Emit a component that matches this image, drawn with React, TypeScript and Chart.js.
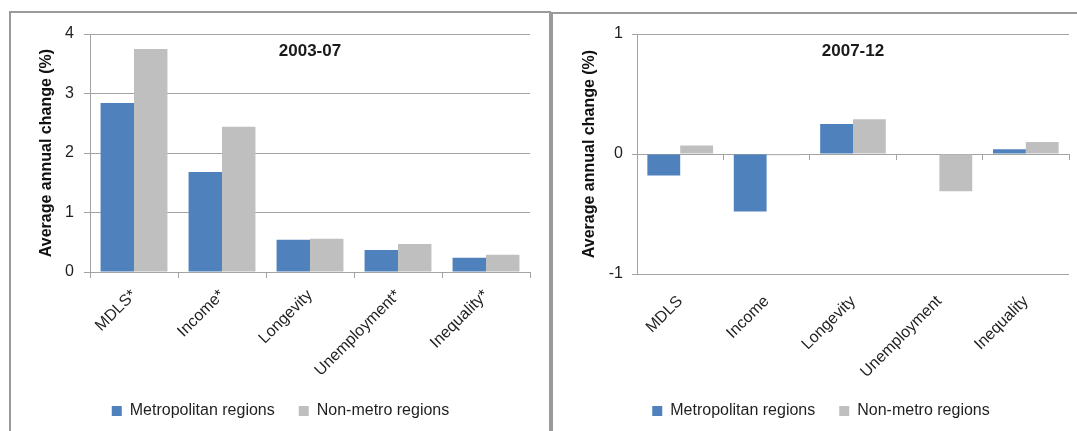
import React, { useEffect, useRef } from 'react';
import { Chart, registerables } from 'chart.js';

Chart.register(...registerables);

const FONT = '"Liberation Sans", Arial, sans-serif';

const seriesNames = ['Metropolitan regions', 'Non-metro regions'];
const seriesColors = ['#4F81BD', '#BFBFBF'];

// Period 2003-07
const categoriesA = ['MDLS*', 'Income*', 'Longevity', 'Unemployment*', 'Inequality*'];
const metroA = [2.84, 1.68, 0.54, 0.37, 0.24];
const nonMetroA = [3.75, 2.44, 0.56, 0.47, 0.29];
const yRangeA = [0, 4];

// Period 2007-12
const categoriesB = ['MDLS', 'Income', 'Longevity', 'Unemployment', 'Inequality'];
const metroB = [-0.18, -0.48, 0.25, 0, 0.04];
const nonMetroB = [0.07, -0.01, 0.29, -0.31, 0.1];
const yRangeB = [-1, 1];

const yTitle = 'Average annual change (%)';

const periodTitlePlugin = {
  id: 'periodTitle',
  afterDatasetsDraw(chart: any, _args: any, opts: any) {
    const { ctx, chartArea } = chart;
    ctx.save();
    ctx.font = `bold 17px ${FONT}`;
    ctx.fillStyle = '#1a1a1a';
    ctx.textAlign = 'center';
    ctx.textBaseline = 'middle';
    ctx.fillText(opts.text, (chartArea.left + chartArea.right) / 2, chartArea.top + 17);
    ctx.restore();
  },
};

type PanelProps = {
  period: string;
  labels: string[];
  metro: number[];
  nonMetro: number[];
  yRange: number[];
  width: number;
  height: number;
  yAxisWidth: number;
  yTickLen: number;
  yTickPad: number;
  yTitlePad: number;
  xAxisHeight: number;
  padTop: number;
  padRight: number;
  zeroAxis: boolean;
};

function Panel(p: PanelProps) {
  const ref = useRef<HTMLCanvasElement>(null);

  useEffect(() => {
    if (!ref.current) return;
    const gridColor = '#a3a3a3';
    const tickFont = { family: FONT, size: 16 };

    const labelAxis: any = {
      type: 'category',
      position: 'bottom',
      offset: true,
      grid: {
        display: !p.zeroAxis,
        offset: true,
        drawOnChartArea: false,
        drawTicks: true,
        tickLength: 6,
        color: gridColor,
      },
      border: { display: !p.zeroAxis, color: gridColor },
      ticks: {
        minRotation: 45,
        maxRotation: 45,
        autoSkip: false,
        padding: p.zeroAxis ? 12 : 8,
        color: '#1f1f1f',
        font: tickFont,
      },
      afterFit: (s: any) => {
        s.height = p.xAxisHeight;
      },
    };

    const scales: any = {
      y: {
        min: p.yRange[0],
        max: p.yRange[1],
        ticks: {
          stepSize: 1,
          padding: p.yTickPad,
          color: '#1f1f1f',
          font: tickFont,
        },
        grid: { color: gridColor, tickLength: p.yTickLen, drawTicks: true },
        border: { display: true, color: gridColor },
        title: {
          display: true,
          text: yTitle,
          color: '#111',
          font: { family: FONT, size: 16, weight: 'bold' },
          padding: { top: p.yTitlePad, bottom: 0 },
        },
        afterFit: (s: any) => {
          s.width = p.yAxisWidth;
        },
      },
    };

    if (p.zeroAxis) {
      // zero line with tick marks; category labels sit on a separate bottom axis
      scales.x = {
        type: 'category',
        position: { y: 0 },
        offset: true,
        grid: {
          offset: true,
          drawOnChartArea: false,
          drawTicks: true,
          tickLength: 5,
          color: gridColor,
        },
        border: { display: true, color: gridColor },
        ticks: { display: false },
      };
      scales.xLabels = labelAxis;
    } else {
      scales.x = labelAxis;
    }

    const chart = new Chart(ref.current, {
      type: 'bar',
      data: {
        labels: p.labels,
        datasets: [
          {
            label: seriesNames[0],
            data: p.metro,
            backgroundColor: seriesColors[0],
            borderWidth: 0,
          },
          {
            label: seriesNames[1],
            data: p.nonMetro,
            backgroundColor: seriesColors[1],
            borderWidth: 0,
          },
        ],
      },
      options: {
        responsive: false,
        animation: false,
        categoryPercentage: 0.76,
        barPercentage: 1,
        layout: { padding: { left: 20, right: p.padRight, top: p.padTop, bottom: 2 } },
        scales,
        plugins: {
          legend: {
            position: 'bottom',
            labels: {
              boxWidth: 10,
              boxHeight: 10,
              padding: 24,
              color: '#1f1f1f',
              font: { family: FONT, size: 16 },
            },
          },
          tooltip: { enabled: false },
          periodTitle: { text: p.period },
        } as any,
      },
      plugins: [periodTitlePlugin],
    });
    return () => chart.destroy();
  }, []);

  return <canvas ref={ref} width={p.width} height={p.height} style={{ display: 'block' }} />;
}

export default function App() {
  const border = '2px solid #9a9a9a';
  return (
    <div
      style={{
        position: 'fixed',
        left: 0,
        top: 0,
        width: 1077,
        height: 431,
        overflow: 'hidden',
        background: '#fff',
      }}
    >
      <div
        style={{
          position: 'absolute',
          left: 9,
          top: 11,
          width: 538,
          height: 440,
          border,
        }}
      >
        <Panel
          period="2003-07"
          labels={categoriesA}
          metro={metroA}
          nonMetro={nonMetroA}
          yRange={yRangeA}
          width={538}
          height={418}
          yAxisWidth={59}
          yTickLen={6}
          yTickPad={10}
          yTitlePad={6}
          xAxisHeight={107}
          padTop={21}
          padRight={19}
          zeroAxis={false}
        />
      </div>
      <div
        style={{
          position: 'absolute',
          left: 551,
          top: 12,
          width: 540,
          height: 440,
          border,
        }}
      >
        <Panel
          period="2007-12"
          labels={categoriesB}
          metro={metroB}
          nonMetro={nonMetroB}
          yRange={yRangeB}
          width={538}
          height={417}
          yAxisWidth={64}
          yTickLen={5}
          yTickPad={9}
          yTitlePad={7}
          xAxisHeight={105}
          padTop={20}
          padRight={22}
          zeroAxis={true}
        />
      </div>
    </div>
  );
}
